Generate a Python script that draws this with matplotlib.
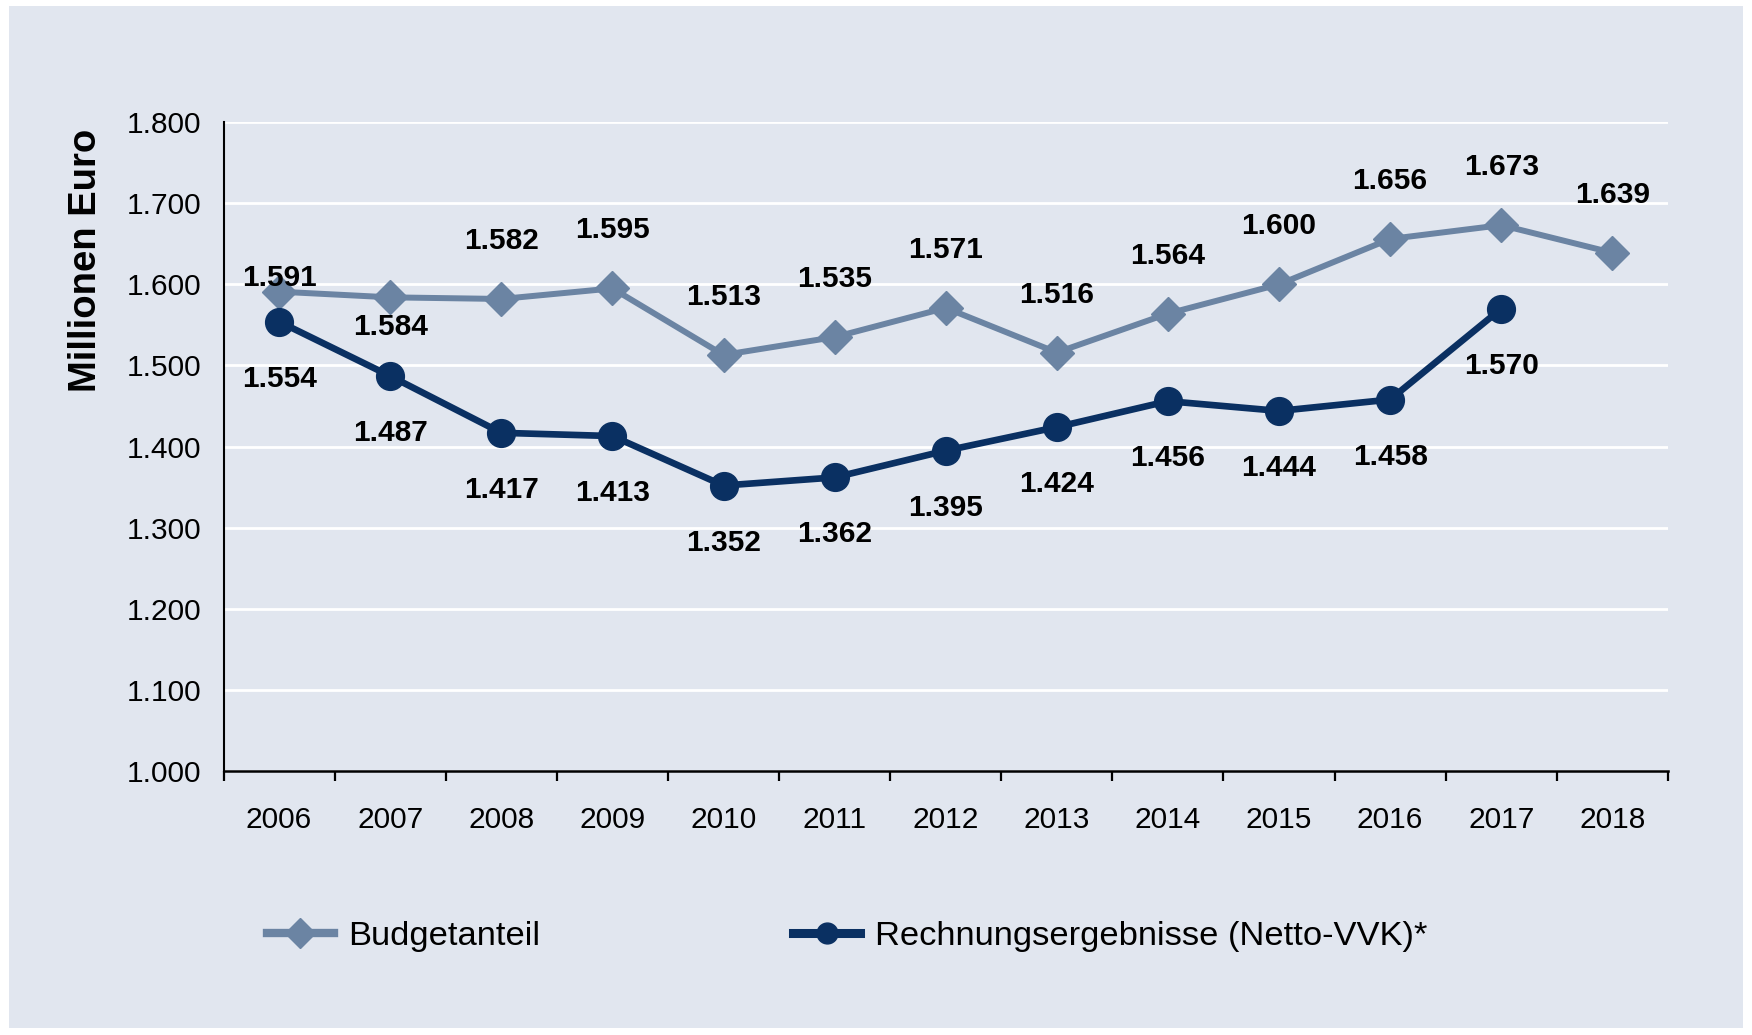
import matplotlib
matplotlib.use("Agg")
import matplotlib.pyplot as plt
from matplotlib.patches import Rectangle
from matplotlib.lines import Line2D

plt.rcParams['font.family'] = ['Liberation Sans', 'DejaVu Sans']

# Data
years = ['2006', '2007', '2008', '2009', '2010', '2011', '2012',
         '2013', '2014', '2015', '2016', '2017', '2018']
budget = [1591, 1584, 1582, 1595, 1513, 1535, 1571, 1516, 1564, 1600, 1656, 1673, 1639]
rechnung = [1554, 1487, 1417, 1413, 1352, 1362, 1395, 1424, 1456, 1444, 1458, 1570]
yticks = [1000, 1100, 1200, 1300, 1400, 1500, 1600, 1700, 1800]

# Label placement for the budget series (offset in pixels)
budget_offsets = [14, -30, 58, 58, 58, 58, 58, 58, 58, 58, 58, 58, 58]

bg = '#e1e6ef'
c_light = '#6b84a3'
c_dark = '#0a3062'


def fmt(v):
    return f"{v:,}".replace(',', '.')


fig = plt.figure(figsize=(17.52, 10.35), dpi=100)
fig.patch.set_facecolor('white')
fig.patches.append(Rectangle((9 / 1752, 1 - 1028 / 1035), (1743 - 9) / 1752, (1028 - 6) / 1035,
                             transform=fig.transFigure, facecolor=bg, edgecolor='none', zorder=-10))

ax = fig.add_axes([0.1276, 0.255, 0.952 - 0.1276, 0.882 - 0.255])
ax.set_facecolor(bg)

x = list(range(len(years)))
ax.plot(x, budget, color=c_light, lw=4.3, marker='D', markersize=17, zorder=3)
ax.plot(x[:len(rechnung)], rechnung, color=c_dark, lw=4.8, marker='o', markersize=20, zorder=4)

for i, v in enumerate(budget):
    ax.annotate(fmt(v), (i, v), xytext=(0, budget_offsets[i]), textcoords='offset pixels',
                ha='center', va='center', fontsize=21.5, fontweight='bold', zorder=5)
for i, v in enumerate(rechnung):
    ax.annotate(fmt(v), (i, v), xytext=(0, -57), textcoords='offset pixels',
                ha='center', va='center', fontsize=21.5, fontweight='bold', zorder=5)

ax.set_xlim(-0.5, len(years) - 0.5)
ax.set_ylim(1000, 1800)
ax.set_yticks(yticks)
ax.set_yticklabels([fmt(v) for v in yticks], fontsize=21.5)
ax.tick_params(axis='y', length=0, pad=16)

ax.set_xticks([i - 0.5 for i in range(len(years) + 1)])
ax.set_xticklabels([])
ax.set_xticks(x, minor=True)
ax.set_xticklabels(years, minor=True, fontsize=21.5)
ax.tick_params(axis='x', which='major', direction='out', length=7, width=1.6, color='black')
ax.tick_params(axis='x', which='minor', length=0, pad=25.5)

ax.grid(axis='y', color='white', lw=2)
ax.set_axisbelow(True)
for s in ['top', 'right']:
    ax.spines[s].set_visible(False)
ax.spines['left'].set_linewidth(1.5)
ax.spines['bottom'].set_linewidth(1.8)

fig.text(86 / 1752, 1 - 260 / 1035, 'Millionen Euro', rotation=90, ha='center', va='center',
         fontsize=27.5, fontweight='bold')

handles = [
    Line2D([], [], color=c_light, lw=6, marker='D', markersize=15),
    Line2D([], [], color=c_dark, lw=6.5, marker='o', markersize=15),
]
fig.legend(handles, ['Budgetanteil', 'Rechnungsergebnisse (Netto-VVK)*'], ncol=2,
           loc='center left', bbox_to_anchor=(236 / 1752, 1 - 936 / 1035), frameon=False,
           fontsize=24.8, handlelength=1.94, handletextpad=0.42, columnspacing=7.35)

fig.savefig('out.png', dpi=100, facecolor=fig.get_facecolor())
